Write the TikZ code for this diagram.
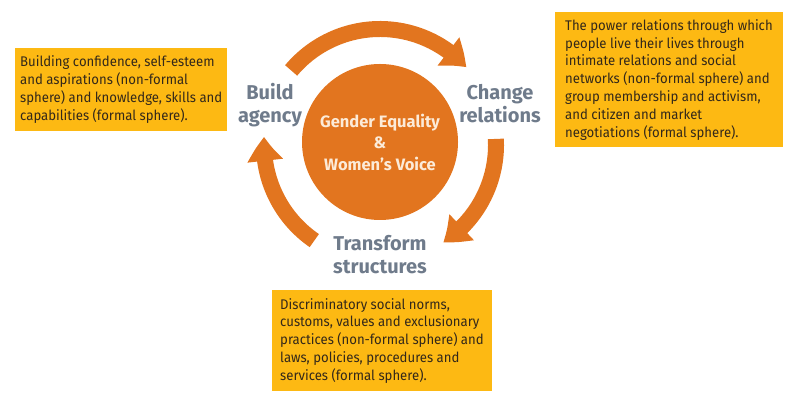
\documentclass[tikz,border=0pt]{standalone}
\usepackage{fontspec}
\setmainfont{Fira Sans}[FakeStretch=0.94]
\newfontfamily\stagefont{Fira Sans}
\usetikzlibrary{positioning,arrows.meta,bending,calc}
\definecolor{cyklus}{HTML}{E2751F}
\definecolor{ramecek}{HTML}{FDB913}
\definecolor{popisek}{HTML}{6F7B8B}
\definecolor{stredtext}{HTML}{FCEBD8}
\definecolor{textbox}{HTML}{33281A}

\begin{document}
\begin{tikzpicture}[x=1pt, y=1pt,
	hub/.style={circle, fill=cyklus, minimum size=156pt, inner sep=0pt, align=center, text=stredtext, font=\stagefont\fontsize{16.5}{21.5}\selectfont\bfseries},
	stage/.style={align=center, text=popisek, font=\stagefont\fontsize{20}{23}\selectfont\bfseries},
	infobox/.style={fill=ramecek, align=left, text=textbox, inner ysep=0pt, anchor=north west, font=\fontsize{14}{17.8}\selectfont},
	cyclearrow/.style={draw=cyklus, line width=16pt, -{Triangle[width=34pt,length=24pt,bend]}}]
			\useasboundingbox (0,0) rectangle (800,403);
			
			% střed
			\node[hub] (hub) at (380,261) {Gender Equality\\\&\\Women’s Voice};
			
			% popisky fází
			\node[stage] (agency) at (270,298) {Build\\agency};
			\node[stage] (relations) at (500,299) {Change\\relations};
			\node[stage] (structures) at (380,148) {Transform\\structures};
			
			% šipky cyklu
			\coordinate (ring) at (380,258);
			\coordinate (topstart) at ($(ring)+(140:116)$);
			\coordinate (rightstart) at ($(ring)+(3:116)$);
			\coordinate (leftstart) at ($(ring)+(235.5:116)$);
			\draw[cyclearrow] (topstart) arc[start angle=140, end angle=42, radius=116];
			\draw[cyclearrow] (rightstart) arc[start angle=3, end angle=-57, radius=116];
			\draw[cyclearrow] (leftstart) arc[start angle=235.5, end angle=176, radius=116];
			
			% rámečky s popisem
			\node[infobox, inner xsep=5pt, minimum height=83pt] (agencybox) at (15,355)
				{Building confidence, self-esteem\\and aspirations (non-formal\\sphere) and knowledge, skills and\\capabilities (formal sphere).};
			\node[infobox, inner xsep=10pt, minimum height=135pt] (relationsbox) at (555,391)
				{The power relations through which\\people live their lives through\\intimate relations and social\\networks (non-formal sphere) and\\group membership and activism,\\and citizen and market\\negotiations (formal sphere).};
			\node[infobox, inner xsep=8pt, minimum height=101pt] (structuresbox) at (272,113)
				{Discriminatory social norms,\\customs, values and exclusionary\\practices (non-formal sphere) and\\laws, policies, procedures and\\services (formal sphere).};
		\end{tikzpicture}
\end{document}
